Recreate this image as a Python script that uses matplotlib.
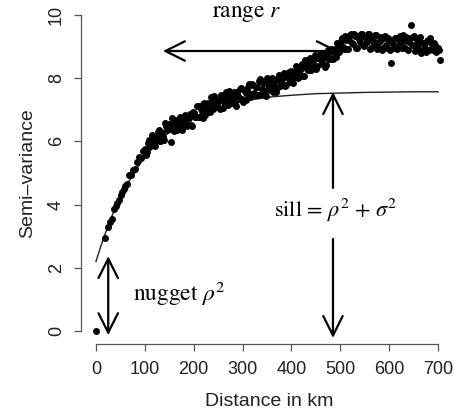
import matplotlib
matplotlib.use("Agg")
import matplotlib.pyplot as plt
from matplotlib.patches import FancyArrowPatch

plt.rcParams['mathtext.fontset'] = 'stix'

# ---- data ----
# empirical semivariogram, first pass of lag bins
dist_a = [0, 18, 25, 29, 33, 37, 40, 44, 47, 51, 54, 57,
          60, 64, 68, 72, 76, 80, 84, 88, 92, 96,
          100, 104, 108, 112, 116, 120, 124, 128, 132, 136,
          140, 144, 148, 152, 156, 160, 164, 168, 172, 176,
          180, 184, 188, 192, 196, 200, 204, 208, 212, 216,
          220, 224, 228, 232, 236, 240, 244, 248, 252, 256,
          260, 264, 268, 272, 276, 280, 284, 288, 292, 296,
          300, 304, 308, 312, 316, 320, 324, 328, 332, 336,
          340, 344, 348, 352, 356, 360, 364, 368, 372, 376,
          380, 384, 388, 392, 396, 400, 404, 408, 412, 416,
          420, 424, 428, 432, 436, 440, 444, 448, 452, 456,
          460, 464, 468, 472, 476, 480, 484, 488, 492, 496,
          500, 504, 508, 512, 516, 520, 524, 528, 532, 536,
          540, 544, 548, 552, 556, 560, 564, 568, 572, 576,
          580, 584, 588, 592, 596, 600, 604, 608, 612, 616,
          620, 624, 628, 632, 636, 640, 644, 648, 652, 656,
          660, 664, 668, 672, 676, 680, 684, 688, 692, 696,
          700, 704]
semivar_a = [0.0, 2.95, 3.28, 3.45, 3.55, 3.85, 3.95, 4.05, 4.15, 4.3, 4.4, 4.5,
             4.60, 4.65, 4.93, 4.93, 5.11, 5.12, 5.34, 5.52, 5.49, 5.70,
             5.77, 5.68, 6.05, 5.91, 6.10, 5.85, 6.18, 6.35, 6.02, 6.24,
             6.05, 6.50, 6.45, 6.38, 6.74, 6.32, 6.58, 6.50, 6.76, 6.36,
             6.72, 6.54, 6.70, 6.88, 6.49, 6.89, 6.78, 7.12, 6.78, 6.97,
             7.19, 6.83, 7.15, 7.09, 7.41, 7.04, 7.33, 7.15, 7.30, 7.48,
             7.06, 7.44, 7.27, 7.60, 7.21, 7.37, 7.18, 7.56, 7.35, 7.69,
             7.24, 7.60, 7.53, 7.71, 7.41, 7.81, 7.53, 7.73, 7.48, 7.99,
             7.67, 7.87, 7.45, 7.79, 7.63, 8.00, 7.76, 7.57, 8.00, 7.76,
             7.97, 8.18, 7.78, 8.10, 7.99, 8.23, 7.84, 8.15, 8.33, 8.08,
             8.31, 8.07, 8.58, 8.28, 8.52, 8.27, 8.53, 8.74, 8.40, 8.66,
             8.58, 8.79, 8.36, 8.78, 8.61, 8.93, 8.64, 8.87, 8.68, 9.11,
             8.97, 9.28, 8.92, 9.22, 8.93, 9.37, 9.11, 9.40, 8.95, 9.32,
             9.15, 9.40, 9.02, 9.28, 9.40, 8.91, 9.27, 9.09, 9.38, 8.91,
             9.16, 9.30, 8.96, 9.33, 8.97, 9.20, 8.48, 9.08, 9.28, 8.91,
             9.21, 9.06, 9.38, 8.94, 9.24, 9.13, 9.68, 9.30, 8.87, 9.20,
             8.96, 9.29, 8.87, 9.07, 8.82, 9.20, 9.27, 8.95, 9.10, 8.83,
             8.95, 8.58]
# second pass of lag bins (interleaved)
dist_b = [102, 106, 110, 114, 118, 122, 126, 130, 134, 138,
          142, 146, 150, 154, 158, 162, 166, 170, 174, 178,
          182, 186, 190, 194, 198, 202, 206, 210, 214, 218,
          222, 226, 230, 234, 238, 242, 246, 250, 254, 258,
          262, 266, 270, 274, 278, 282, 286, 290, 294, 298,
          302, 306, 310, 314, 318, 322, 326, 330, 334, 338,
          342, 346, 350, 354, 358, 362, 366, 370, 374, 378,
          382, 386, 390, 394, 398, 402, 406, 410, 414, 418,
          422, 426, 430, 434, 438, 442, 446, 450, 454, 458,
          462, 466, 470, 474, 478, 482, 486, 490, 494, 498,
          502, 506, 510, 514, 518, 522, 526, 530, 534, 538,
          542, 546, 550, 554, 558, 562, 566, 570, 574, 578,
          582, 586, 590, 594, 598, 602, 606, 610, 614, 618,
          622, 626, 630, 634, 638, 642, 646, 650, 654, 658,
          662, 666, 670, 674, 678, 682, 686, 690, 694, 698,
          702]
semivar_b = [5.58, 5.96, 5.85, 6.19, 5.93, 6.11, 6.31, 6.00, 6.29, 6.13,
             6.58, 6.37, 6.55, 5.98, 6.55, 6.68, 6.35, 6.55, 6.71, 6.50,
             6.83, 6.49, 6.75, 6.52, 6.93, 6.78, 7.12, 6.78, 7.03, 6.74,
             7.20, 7.05, 7.23, 6.94, 7.25, 7.43, 7.08, 7.28, 7.02, 7.45,
             7.24, 7.55, 7.14, 7.43, 7.26, 7.55, 7.11, 7.44, 7.65, 7.35,
             7.63, 7.31, 7.61, 7.83, 7.49, 7.77, 7.47, 7.72, 7.92, 7.50,
             7.84, 7.61, 8.00, 7.72, 7.92, 7.56, 7.91, 7.68, 8.09, 7.86,
             8.06, 7.75, 8.04, 8.21, 7.88, 8.18, 8.03, 8.39, 8.00, 8.26,
             8.44, 8.08, 8.44, 8.27, 8.64, 8.41, 8.64, 8.30, 8.63, 8.76,
             8.45, 8.65, 8.43, 8.90, 8.60, 8.85, 8.61, 8.93, 9.11, 8.83,
             9.18, 8.99, 9.35, 8.93, 9.22, 9.40, 9.07, 9.34, 8.97, 9.25,
             9.40, 9.05, 9.31, 9.13, 9.40, 8.95, 9.22, 9.06, 9.36, 8.97,
             9.18, 8.89, 9.26, 9.04, 9.27, 8.89, 9.14, 8.95, 9.27, 9.03,
             9.35, 8.95, 9.19, 9.31, 8.90, 9.27, 9.05, 9.32, 8.95, 9.10,
             9.23, 8.81, 9.10, 8.96, 9.17, 8.88, 9.10, 8.90, 9.06, 8.89,
             8.90]

# fitted variogram model line
model_km = [0, 10, 20, 30, 40, 50, 60, 80, 100, 120, 140, 160, 180, 200,
            240, 280, 320, 360, 400, 450, 500, 550, 600, 650, 700]
model_sv = [2.2, 2.69, 3.13, 3.54, 3.91, 4.24, 4.54, 5.07, 5.50, 5.86, 6.16,
            6.41, 6.61, 6.78, 7.03, 7.21, 7.32, 7.41, 7.46, 7.51, 7.53, 7.55,
            7.56, 7.57, 7.57]

x_ticks = [0, 100, 200, 300, 400, 500, 600, 700]
y_ticks = [0, 2, 4, 6, 8, 10]

# ---- figure ----
W, H = 454, 412
fig = plt.figure(figsize=(W / 100, H / 100), dpi=100)
ax = fig.add_axes([81 / W, (H - 344) / H, (452 - 81) / W, (344 - 5) / H])
ax.set_xlim(-30.7, 728.6)
ax.set_ylim(-0.411, 10.316)

ax.plot(model_km, model_sv, color='#222222', lw=1.0, zorder=2)
ax.plot(dist_a + dist_b, semivar_a + semivar_b, 'o', color='black',
        ms=5.0, mec='none', zorder=3)

for s in ['top', 'right']:
    ax.spines[s].set_visible(False)
ax.spines['left'].set_bounds(0, 10)
ax.spines['bottom'].set_bounds(0, 700)
for s in ['left', 'bottom']:
    ax.spines[s].set_color('#555555')
    ax.spines[s].set_linewidth(0.9)

ax.set_xticks(x_ticks)
ax.set_yticks(y_ticks)
ax.set_xticklabels([str(v) for v in x_ticks])
ax.set_yticklabels([str(v) for v in y_ticks], rotation=90, va='center')
ax.tick_params(axis='both', direction='out', length=5, width=0.9,
               color='#555555', labelsize=13, labelcolor='#222222')
ax.tick_params(axis='x', pad=7.5)
ax.tick_params(axis='y', pad=6.7)
for lab in ax.get_xticklabels() + ax.get_yticklabels():
    lab.set_family('Liberation Sans')

fig.text(269 / W, (H - 406) / H, 'Distance in km', ha='center', va='baseline',
         fontsize=14, family='Liberation Sans', color='#222222')
fig.text(32 / W, (H - 173) / H, 'Semi–variance', ha='center', va='baseline',
         rotation=90, rotation_mode='anchor', fontsize=14,
         family='Liberation Sans', color='#222222')

# ---- annotations ----
def arrow(p0, p1, style):
    a = FancyArrowPatch(p0, p1, arrowstyle=style + ',head_length=1.4,head_width=0.7',
                        mutation_scale=10, lw=1.6, color='black',
                        shrinkA=0, shrinkB=0, clip_on=False, zorder=4)
    ax.add_patch(a)

arrow((137, 8.86), (497, 8.86), '<->')
arrow((25, 2.37), (25, -0.13), '<->')
arrow((485, 4.53), (485, 7.56), '->')
arrow((485, 2.91), (485, -0.22), '->')

serif = 'STIXGeneral'
ax.text(309, 9.94, r'range $r$', ha='center', va='baseline', fontsize=16.8,
        family=serif, clip_on=False)
ax.text(75.7, 0.95, r'nugget $\rho^2$', ha='left', va='baseline', fontsize=16.8,
        family=serif, clip_on=False)
ax.text(491, 3.61, r'sill = $\rho^2$ + $\sigma^2$', ha='center', va='baseline',
        fontsize=16, family=serif, clip_on=False)

fig.savefig('out.png', dpi=100)
